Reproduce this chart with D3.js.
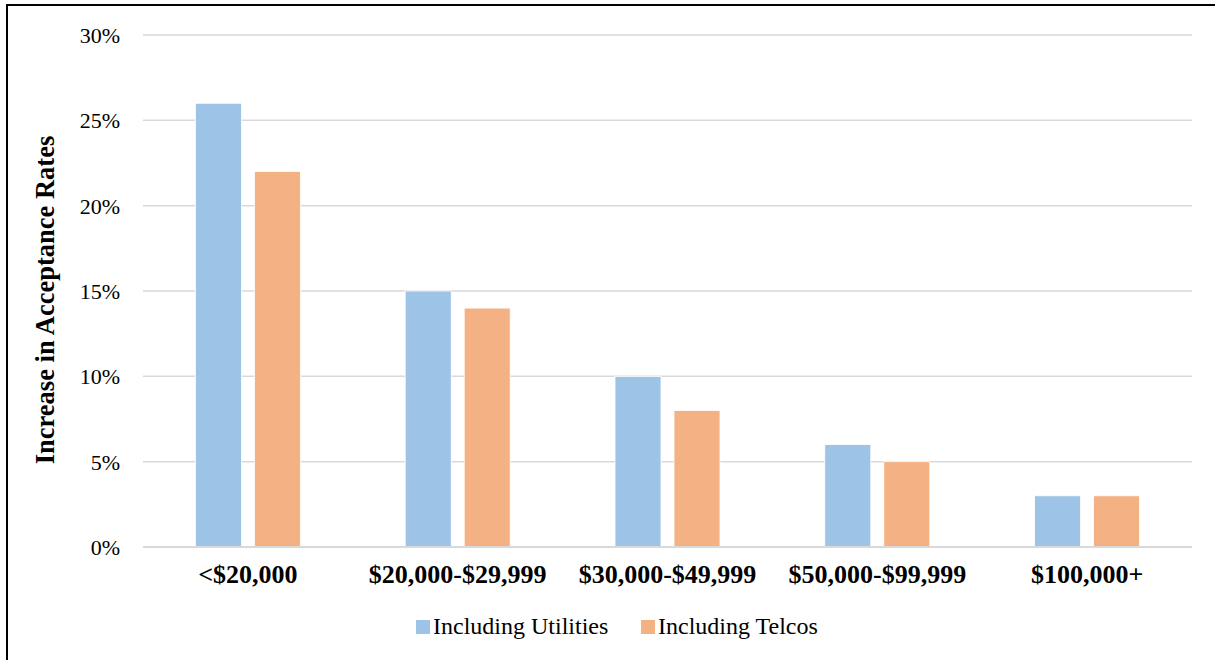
<!DOCTYPE html>
<html>
<head>
<meta charset="utf-8">
<script src="https://cdn.jsdelivr.net/npm/d3@7"></script>
<style>
  body { margin: 0; background: #fff; }
  svg { display: block; font-family: "Liberation Serif", "Times New Roman", serif; }
  svg text { font-family: "Liberation Serif", "Times New Roman", serif; fill: #000; }
</style>
</head>
<body>
<div id="chart"></div>
<script>
// data
const categories = ['<$20,000', '$20,000-$29,999', '$30,000-$49,999', '$50,000-$99,999', '$100,000+'];
const seriesNames = ['Including Utilities', 'Including Telcos'];
const utilities = [26, 15, 10, 6, 3];
const telcos = [22, 14, 8, 5, 3];
const yTicks = [0, 5, 10, 15, 20, 25, 30];
const colors = ['#9dc3e6', '#f4b183'];

const width = 1215;
const height = 660;
const margin = {top: 35, right: 23, bottom: 113, left: 143};
const chartWidth = width - margin.left - margin.right;
const chartHeight = height - margin.top - margin.bottom;

const data = categories.map((c, i) => ({category: c, values: [utilities[i], telcos[i]]}));

const svg = d3.select('#chart')
    .append('svg')
    .attr('width', width)
    .attr('height', height);

// frame of the figure box
svg.append('line')
    .attr('x1', 7).attr('x2', width).attr('y1', 5).attr('y2', 5)
    .attr('stroke', '#000').attr('stroke-width', 2);
svg.append('line')
    .attr('x1', 7).attr('x2', 7).attr('y1', 4).attr('y2', height)
    .attr('stroke', '#000').attr('stroke-width', 2);

const g = svg.append('g')
    .attr('transform', `translate(${margin.left},${margin.top})`);

const xScale = d3.scaleBand()
    .domain(categories)
    .range([0, chartWidth]);

const pairWidth = 105;
const xInner = d3.scaleBand()
    .domain(d3.range(seriesNames.length))
    .range([0, pairWidth])
    .paddingInner(13 / 59);

const yScale = d3.scaleLinear()
    .domain([0, 30])
    .range([chartHeight, 0]);

// gridlines
g.append('g')
    .selectAll('line')
    .data(yTicks)
    .join('line')
      .attr('x1', 0)
      .attr('x2', chartWidth)
      .attr('y1', d => yScale(d))
      .attr('y2', d => yScale(d))
      .attr('stroke', '#d9d9d9')
      .attr('stroke-width', 1.5);

// y axis labels
const yAxis = d3.axisLeft(yScale)
    .tickValues(yTicks)
    .tickSize(0)
    .tickPadding(23)
    .tickFormat(d => d + '%');

g.append('g')
    .call(yAxis)
    .call(s => s.select('.domain').remove())
    .selectAll('text')
      .attr('font-size', 22)
      .attr('dy', '0.34em');

// bars
const groups = g.append('g')
    .selectAll('g')
    .data(data)
    .join('g')
      .attr('transform', d => `translate(${xScale(d.category) + (xScale.bandwidth() - pairWidth) / 2},0)`);

groups.selectAll('rect')
    .data(d => d.values.map((v, i) => ({v, i})))
    .join('rect')
      .attr('x', d => xInner(d.i))
      .attr('y', d => yScale(d.v))
      .attr('width', xInner.bandwidth())
      .attr('height', d => chartHeight - yScale(d.v))
      .attr('fill', d => colors[d.i])
      .attr('stroke', '#fff')
      .attr('stroke-width', 0.8);

// baseline
g.append('line')
    .attr('x1', 0).attr('x2', chartWidth)
    .attr('y1', chartHeight).attr('y2', chartHeight)
    .attr('stroke', '#d9d9d9')
    .attr('stroke-width', 2);

// x axis labels
const xAxis = d3.axisBottom(xScale).tickSize(0);
g.append('g')
    .attr('transform', `translate(0,${chartHeight})`)
    .call(xAxis)
    .call(s => s.select('.domain').remove())
    .selectAll('text')
      .attr('y', 36)
      .attr('dy', null)
      .attr('font-size', 26)
      .attr('font-weight', 'bold');

// y axis title
svg.append('text')
    .attr('transform', 'translate(54,300) rotate(-90)')
    .attr('text-anchor', 'middle')
    .attr('font-size', 26.5)
    .attr('font-weight', 'bold')
    .text('Increase in Acceptance Rates');

// legend
const legendX = [416, 641];
const legend = svg.append('g')
    .selectAll('g')
    .data(seriesNames)
    .join('g')
      .attr('transform', (d, i) => `translate(${legendX[i]},620)`);

legend.append('rect')
    .attr('width', 14)
    .attr('height', 14)
    .attr('fill', (d, i) => colors[i]);

legend.append('text')
    .attr('x', 17)
    .attr('y', 14)
    .attr('font-size', 24)
    .text(d => d);
</script>
</body>
</html>
